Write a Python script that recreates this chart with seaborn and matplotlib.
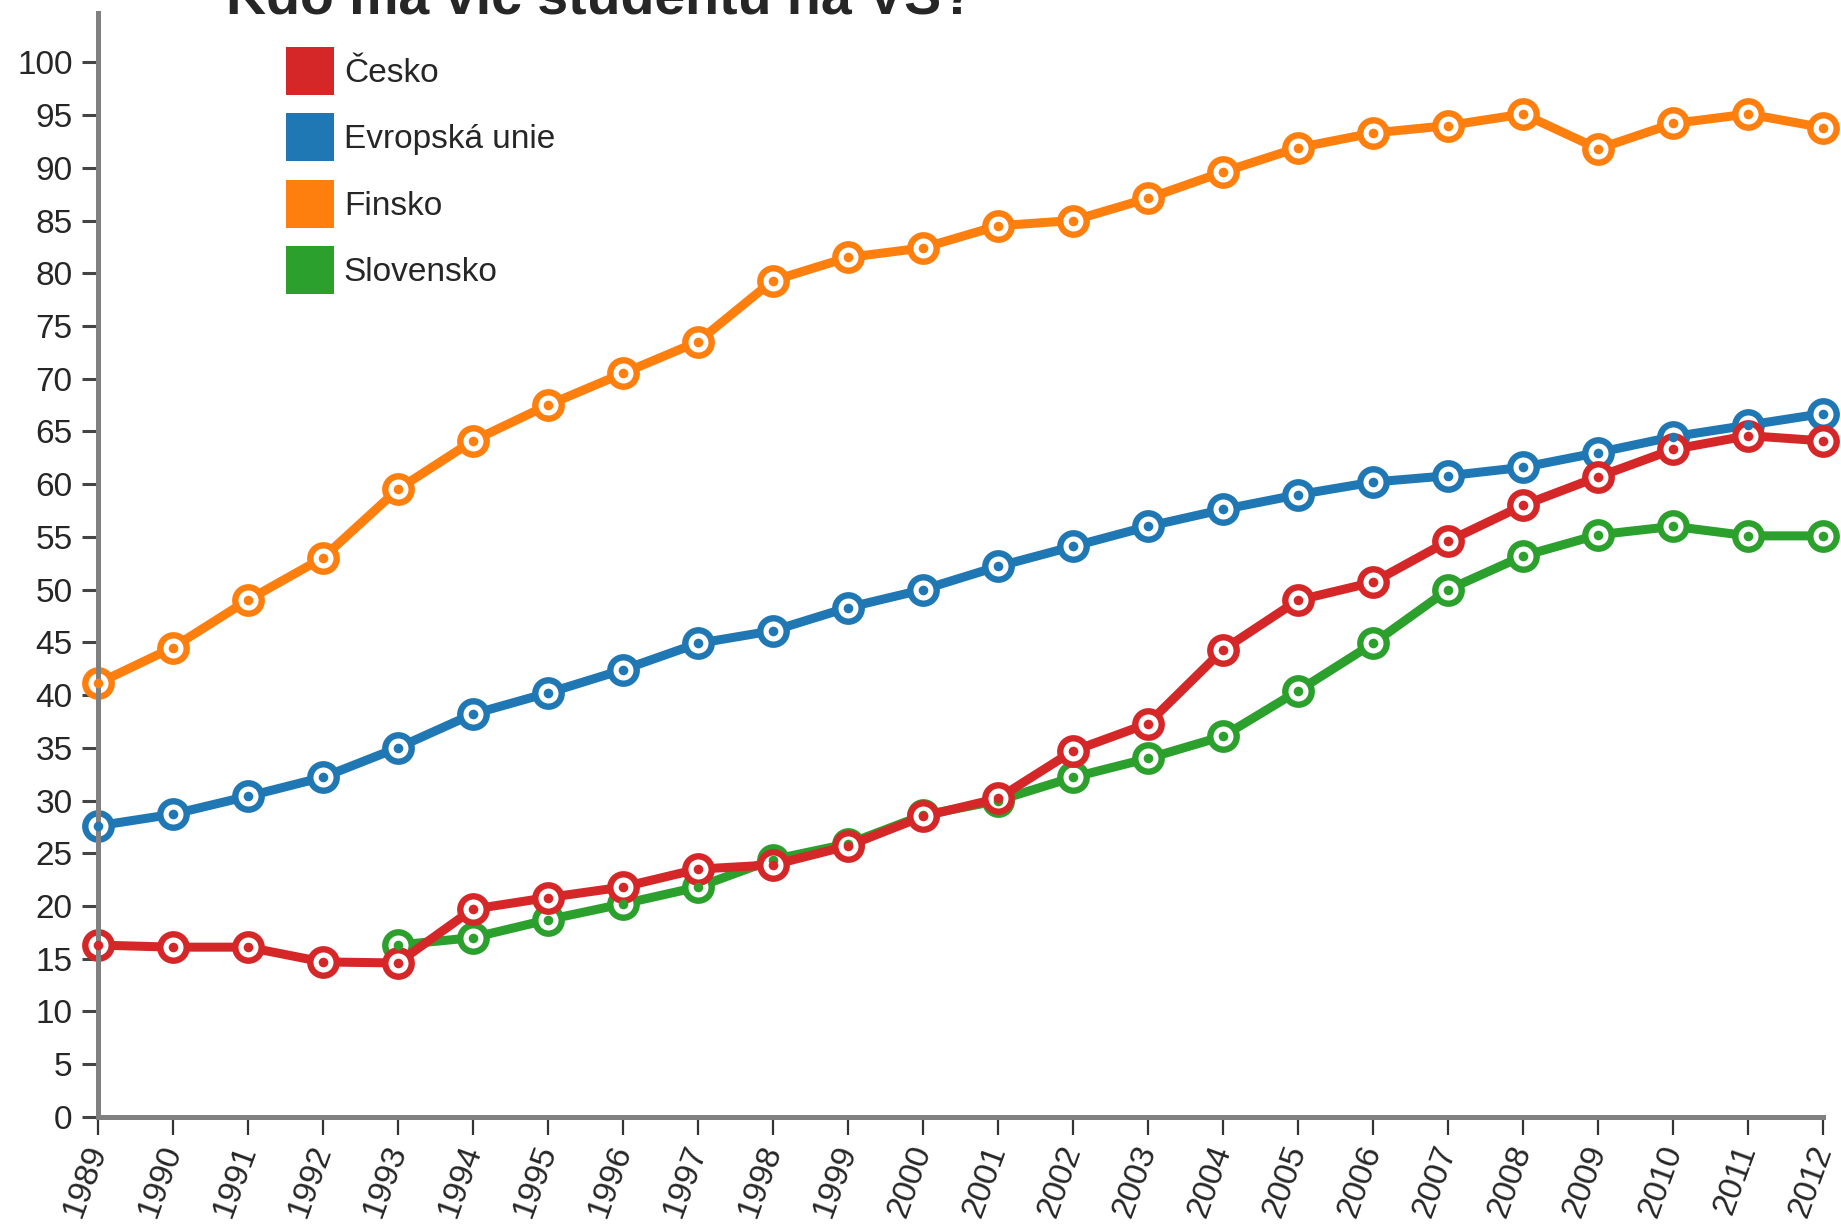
import numpy as np
import pandas as pd
import seaborn as sns
import matplotlib.pyplot as plt
from matplotlib.patches import Patch

# Data
years = list(range(1989, 2013))
cesko = [16.3, 16.1, 16.1, 14.7, 14.6, 19.7, 20.8, 21.8, 23.5, 23.9, 25.7, 28.5,
         30.2, 34.7, 37.3, 44.3, 49.0, 50.7, 54.6, 58.0, 60.7, 63.3, 64.6, 64.1]
eu = [27.6, 28.7, 30.4, 32.2, 35.0, 38.2, 40.2, 42.4, 44.9, 46.1, 48.3, 50.0,
      52.2, 54.1, 56.0, 57.6, 59.0, 60.2, 60.8, 61.6, 63.0, 64.5, 65.6, 66.7]
finsko = [41.1, 44.5, 49.0, 53.0, 59.5, 64.1, 67.5, 70.5, 73.5, 79.3, 81.5, 82.4,
          84.5, 85.0, 87.1, 89.6, 91.9, 93.3, 94.0, 95.1, 91.8, 94.2, 95.1, 93.8]
slovensko_years = list(range(1993, 2013))
slovensko = [16.3, 17.0, 18.7, 20.2, 21.8, 24.4, 25.9, 28.6, 30.0, 32.2, 34.0,
             36.1, 40.4, 44.9, 50.0, 53.2, 55.2, 56.0, 55.1, 55.1]

legend_order = ["Česko", "Evropská unie", "Finsko", "Slovensko"]
colors = {"Česko": "#d62728", "Evropská unie": "#1f77b4",
          "Finsko": "#ff7f0e", "Slovensko": "#2ca02c"}

series = {
    "Slovensko": (slovensko_years, slovensko),
    "Finsko": (years, finsko),
    "Evropská unie": (years, eu),
    "Česko": (years, cesko),
}

sns.set_style("white")
plt.rcParams["font.family"] = ["Liberation Sans", "DejaVu Sans"]

fig = plt.figure(figsize=(18.41, 12.25), dpi=100)
ax = fig.add_axes([0.053, 0.0882, 0.9374, 0.9014])

# draw back to front so Česko ends up on top
for name, (xs, ys) in series.items():
    df = pd.DataFrame({"rok": xs, "hodnota": ys})
    c = colors[name]
    sns.lineplot(data=df, x="rok", y="hodnota", ax=ax, color=c, linewidth=6.5,
                 marker="o", markersize=19, markerfacecolor="white",
                 markeredgecolor=c, markeredgewidth=4.6, clip_on=False)
    sns.scatterplot(data=df, x="rok", y="hodnota", ax=ax, color=c, s=48,
                    linewidth=0, clip_on=False, zorder=3)

ax.set_xlim(1989, 2012)
ax.set_ylim(0, 104.7)
ax.set_xticks(years)
ax.set_yticks(range(0, 101, 5))
ax.set_xlabel("")
ax.set_ylabel("")

for s in ["top", "right"]:
    ax.spines[s].set_visible(False)
for s in ["left", "bottom"]:
    ax.spines[s].set_color("#808080")
    ax.spines[s].set_linewidth(3.6)

ax.tick_params(axis="y", length=11.5, width=2.2, color="#444444", pad=6.5,
               labelsize=24, left=True)
ax.tick_params(axis="x", length=13, width=1.6, color="#333333", pad=8,
               labelsize=24, bottom=True)
for lab in ax.get_xticklabels():
    lab.set_rotation(70)
    lab.set_ha("right")
    lab.set_va("center")
    lab.set_rotation_mode("anchor")

fig.text(0.326, 0.9886, "Kdo má víc studentů na VŠ?", fontsize=40,
         fontweight="bold", ha="center", va="baseline")

handles = [Patch(facecolor=colors[n], edgecolor="none", label=n) for n in legend_order]
ax.legend(handles=handles, loc="upper left", bbox_to_anchor=(0.1553, 0.9616),
          bbox_transform=fig.transFigure, frameon=False, fontsize=24,
          handlelength=1.44, handleheight=1.84, handletextpad=0.3,
          labelspacing=0.55, borderpad=0, borderaxespad=0)

plt.savefig("out.png", dpi=100)
